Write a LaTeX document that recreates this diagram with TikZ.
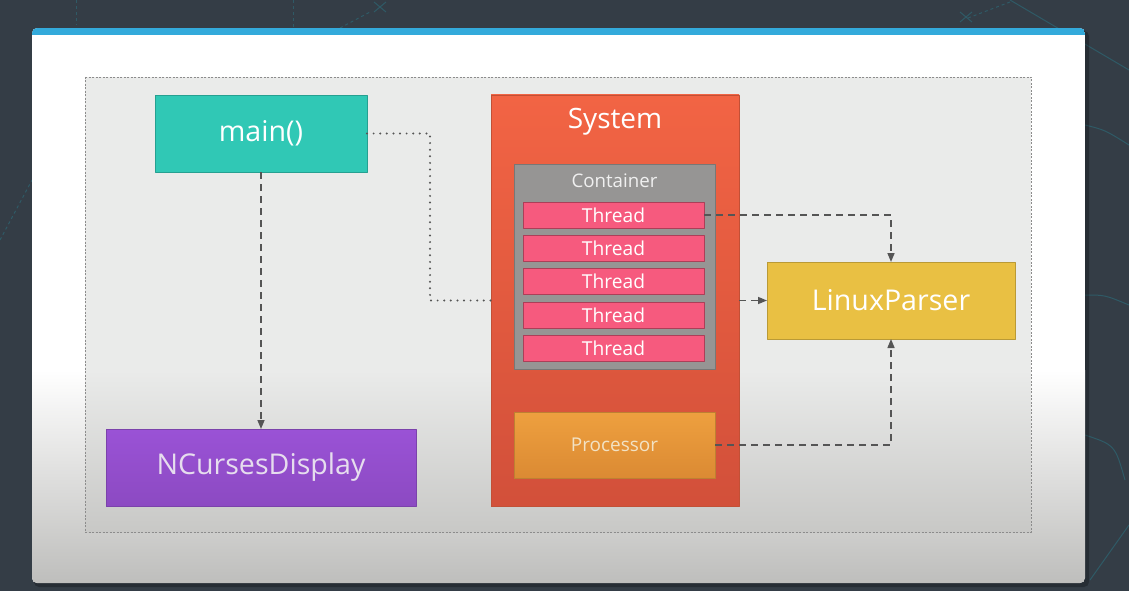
\documentclass[tikz,border=0pt]{standalone}
\usepackage{fontspec}
\setmainfont{Open Sans}
\usepackage{xcolor}
\usetikzlibrary{arrows.meta,positioning,calc}
\definecolor{slate}{HTML}{343D46}
\definecolor{slateline}{HTML}{2F5A66}
\definecolor{topbar}{HTML}{33AADB}
\definecolor{cardgray}{HTML}{BEBEBC}
\definecolor{panelgray}{HTML}{EAEBEA}
\definecolor{paneldark}{HTML}{C8C8C6}
\definecolor{framegray}{HTML}{8C8C8C}
\definecolor{mainteal}{HTML}{30C8B5}
\definecolor{sysred}{HTML}{F26444}
\definecolor{sysdark}{HTML}{D2503A}
\definecolor{boxgray}{HTML}{969594}
\definecolor{threadpink}{HTML}{F65A7E}
\definecolor{procorange}{HTML}{EEA03F}
\definecolor{procdark}{HTML}{DB8A33}
\definecolor{proctext}{HTML}{F2E2C4}
\definecolor{parseryellow}{HTML}{E9C043}
\definecolor{cursespurple}{HTML}{9A52D6}
\definecolor{cursesdark}{HTML}{8C4AC2}
\definecolor{cursestext}{HTML}{E6DDEE}
\definecolor{linkgray}{HTML}{555555}
\tikzset{
    every picture/.style={line join=round},
    classbox/.style={draw=#1!80!black,line width=0.7pt,inner sep=0pt,outer sep=0pt,
      anchor=north west,text=white,font=\fontsize{28.6}{32}\selectfont,align=center},
    threadbox/.style={draw=threadpink!70!black,fill=threadpink,line width=0.7pt,
      inner sep=0pt,outer sep=0pt,minimum width=181pt,minimum height=26pt,
      text=white,font=\fontsize{19.2}{21}\selectfont},
    uses/.style={draw=linkgray,line width=1.5pt,dash pattern=on 7pt off 5pt,
      -{Triangle[length=9pt,width=7pt]}},
    owns/.style={draw=linkgray,line width=2.2pt,line cap=round,
      dash pattern=on 0pt off 6.6pt},
    decor/.style={draw=slateline,line width=1pt}
}
\begin{document}
\begin{tikzpicture}[x=1pt,y=-1pt]
  % backdrop and slide card
  \fill[slate] (0,0) rectangle (1129,591);
  \useasboundingbox (0,0) rectangle (1129,591);
  \draw[decor,dashed] (76,0) -- (76,25);
  \draw[decor,dashed] (293,0) -- (293,28);
  \draw[decor] (8,0) arc[start angle=180,end angle=200,radius=300];
  \draw[decor,dashed] (340,28) -- (370,12);
  \draw[decor] (374,2) -- (386,12) (374,12) -- (386,2);
  \draw[decor,dashed] (968,18) -- (1010,2);
  \draw[decor] (960,12) -- (972,22) (960,22) -- (972,12);
  \draw[decor] (1010,0) -- (1129,70);
  \draw[decor] (1085,125) .. controls (1105,130) .. (1129,145);
  \draw[decor] (1085,295) .. controls (1105,295) .. (1129,305);
  \draw[decor] (1085,435) .. controls (1115,445) .. (1125,480);
  \draw[decor] (1129,525) -- (1090,580);
  \draw[decor,dashed] (0,240) -- (32,180);
  \fill[black,opacity=0.25,rounded corners=5pt] (34,31) rectangle (1089,587);
  \begin{scope}
    \clip[rounded corners=5pt] (32,28) rectangle (1085,583);
    \fill[white] (32,28) rectangle (1085,583);
    \shade[top color=white,bottom color=cardgray] (32,370) rectangle (1085,583);
    \fill[topbar] (32,28) rectangle (1085,35);
  \end{scope}
  % package frame
  \fill[panelgray] (85,77) rectangle (1031,370);
  \shade[top color=panelgray,bottom color=paneldark] (85,370) rectangle (1031,532);
  \draw[framegray,line width=0.6pt,dash pattern=on 2pt off 1.5pt] (85,77) rectangle (1031,532);

  % classes
  \node[classbox=mainteal,fill=mainteal,minimum width=212pt,minimum height=77pt]
    (main) at (155,95) {main()};
  \node[classbox=cursespurple,top color=cursespurple,bottom color=cursesdark,
        minimum width=310pt,minimum height=77pt,text=cursestext]
    (ncurses) at (106,429) {NCursesDisplay};
  \node[classbox=sysred,top color=sysred,middle color=sysred!85!sysdark,bottom color=sysdark,
        minimum width=248pt,minimum height=411pt] (system) at (491,95) {};
  \node[text=white,font=\fontsize{28}{32}\selectfont,below=9.5pt of system.north]
    (systitle) {System};
  \node[classbox=boxgray,fill=boxgray,minimum width=201pt,minimum height=205pt]
    (container) at (514,164) {};
  \node[text=white!94!black,font=\fontsize{18.7}{21}\selectfont,below=6.5pt of container.north]
    (contitle) {Container};
  \node[threadbox,anchor=north west] (thread1) at (523,202) {Thread};
  \foreach \i [remember=\i as \j (initially 1)] in {2,...,5}
    \node[threadbox,below=7.3pt of thread\j] (thread\i) {Thread};
  \node[classbox=procorange,top color=procorange,bottom color=procdark,
        minimum width=201pt,minimum height=66pt,text=proctext,
        font=\fontsize{19}{21}\selectfont] (processor) at (514,412) {Processor};
  \node[classbox=parseryellow,fill=parseryellow,minimum width=248pt,minimum height=77pt]
    (parser) at (767,262) {LinuxParser};

  % connectors
  \draw[owns] (main.east) -- ++(63pt,0) |- (system.west);
  \draw[uses] (main.south) -- (ncurses.north);
  \draw[uses] (thread1.east) -| (parser.north-|891,0);
  \draw[uses] (system.east) -- (parser.west);
  \draw[uses] (processor.east) -| (parser.south-|891,0);
\end{tikzpicture}
\end{document}
